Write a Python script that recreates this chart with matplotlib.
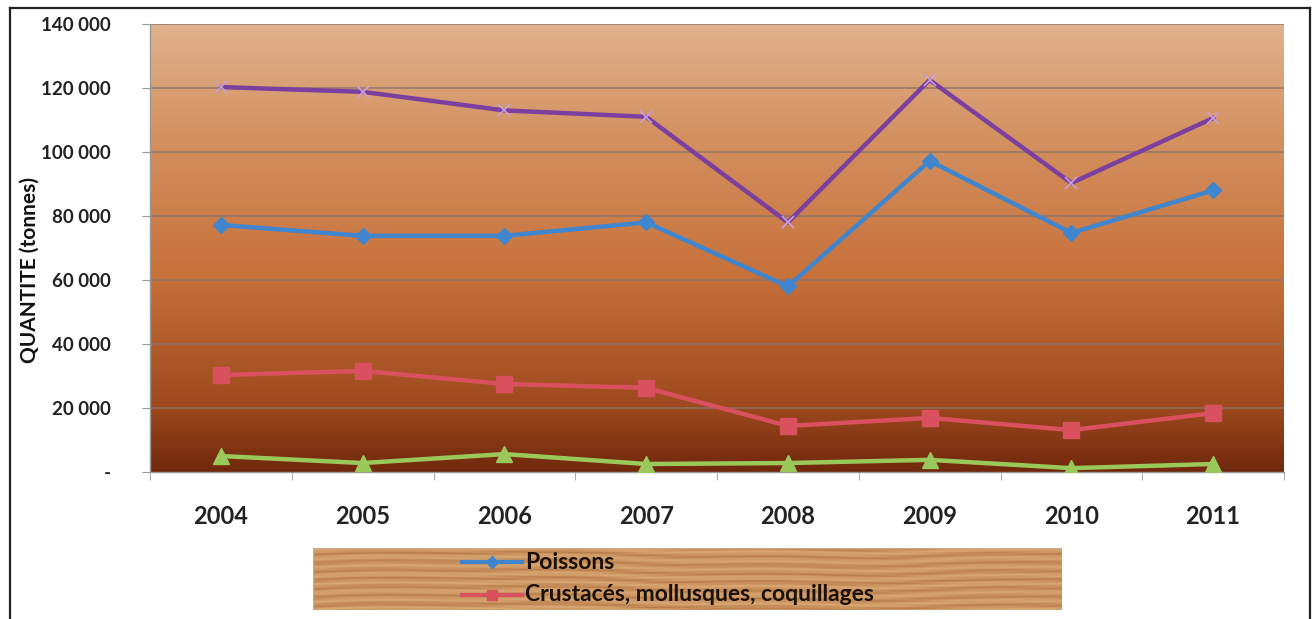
import numpy as np
import matplotlib
matplotlib.use("Agg")
import matplotlib.pyplot as plt
from matplotlib.colors import LinearSegmentedColormap
from matplotlib.lines import Line2D
from matplotlib.patches import Rectangle

plt.rcParams['font.family'] = ['Lato', 'DejaVu Sans']

# Data (tonnes)
years = ["2004", "2005", "2006", "2007", "2008", "2009", "2010", "2011"]
total = [120300, 118800, 113000, 111000, 78000, 122500, 90300, 110600]
poissons = [77200, 73800, 73800, 78000, 58000, 97200, 74700, 88000]
crustaces = [30300, 31600, 27500, 26300, 14400, 16900, 13100, 18400]
autres = [5000, 2800, 5600, 2500, 2800, 3800, 1200, 2500]
y_ticks = [0, 20000, 40000, 60000, 80000, 100000, 120000, 140000]
y_tick_labels = ["-", "20 000", "40 000", "60 000", "80 000", "100 000", "120 000", "140 000"]

fig = plt.figure(figsize=(13.16, 6.19), dpi=100)
fig.patch.set_facecolor("white")

# outer frame of the chart object
for (x0, y0, x1, y1) in [(10/1316, 1 - 8/619, 10/1316, 0), (1310/1316, 1 - 8/619, 1310/1316, 0),
                         (10/1316, 1 - 8/619, 1310/1316, 1 - 8/619)]:
    fig.add_artist(Line2D([x0, x1], [y0, y1], color="#222222", lw=1.6, transform=fig.transFigure))

ax = fig.add_axes([150/1316, 1 - 472/619, (1284 - 150)/1316, (472 - 24)/619])
x = np.arange(len(years))
ax.set_xlim(-0.5, len(years) - 0.5)
ax.set_ylim(0, 140000)

# vertical gradient background of the plot area
bg = LinearSegmentedColormap.from_list("bg", [
    (0.0, (112/255, 40/255, 12/255)),
    (0.15, (158/255, 74/255, 30/255)),
    (0.45, (200/255, 114/255, 60/255)),
    (0.75, (212/255, 145/255, 96/255)),
    (1.0, (224/255, 178/255, 142/255)),
])
grad = np.linspace(0, 1, 256).reshape(-1, 1)
ax.imshow(grad, cmap=bg, aspect="auto", origin="lower",
          extent=(-0.5, len(years) - 0.5, 0, 140000), zorder=0)

for yv in y_ticks[1:]:
    ax.axhline(yv, color="#8c7468", lw=1.2, alpha=0.85, zorder=1)

ax.plot(x, total, color="#7b3fa0", lw=3.2, marker="x", ms=9, mew=1.2,
        mec="#c9a0d8", zorder=3)
ax.plot(x, poissons, color="#3f86cf", lw=3.2, marker="D", ms=8, zorder=4, label="Poissons")
ax.plot(x, crustaces, color="#d9505f", lw=3.2, marker="s", ms=11, zorder=4,
        label="Crustacés, mollusques, coquillages")
ax.plot(x, autres, color="#9bc85a", lw=3.2, marker="^", ms=11, zorder=4)

ax.set_yticks(y_ticks)
ax.set_yticklabels(y_tick_labels, fontsize=13.5, fontweight="bold", color="#222222")
ax.set_xticks(x)
ax.set_xticklabels(years, fontsize=17, fontweight="bold", color="#222222")
ax.set_xticks(np.arange(len(years) + 1) - 0.5, minor=True)
ax.tick_params(axis="x", which="major", length=0, pad=24)
ax.tick_params(axis="x", which="minor", length=6, color="#999999")
ax.tick_params(axis="y", length=6, color="#999999", pad=22)
for s in ["top", "right"]:
    ax.spines[s].set_visible(False)
for s in ["left", "bottom"]:
    ax.spines[s].set_color("#999999")
    ax.spines[s].set_linewidth(1.0)
ax.set_ylabel("QUANTITE (tonnes)", fontsize=15, fontweight="bold", color="#111111")
ax.yaxis.set_label_coords(-0.097, 0.45)

# legend panel with a wood-grain fill
lax = fig.add_axes([313/1316, 1 - 610/619, (1062 - 313)/1316, (610 - 548)/619])
lax.set_xlim(0, 1)
lax.set_ylim(0, 1)
lax.axis("off")
xx = np.linspace(0, 1, 600)
yy = np.linspace(0, 1, 60)
X, Y = np.meshgrid(xx, yy)
grain = (0.5 + 0.18 * np.sin(Y * 45 + 2.0 * np.sin(X * 7) + 0.8 * np.sin(X * 23))
         + 0.08 * np.sin(Y * 110 + 3 * np.sin(X * 13)))
wood = LinearSegmentedColormap.from_list("wood", ["#b87e4a", "#cd9763", "#d9a874"])
lax.imshow(grain, cmap=wood, aspect="auto", extent=(0, 1, 0, 1), zorder=0)
lax.add_patch(Rectangle((0, 0), 1, 1, fill=False, ec="#c9a88a", lw=1))

hx0, hx1 = 0.199, 0.279
lax.plot([hx0, hx1], [0.77, 0.77], color="#3f86cf", lw=3, zorder=2)
lax.plot([(hx0 + hx1) / 2], [0.77], marker="D", color="#3f86cf", ms=6, zorder=3)
lax.plot([hx0, hx1], [0.25, 0.25], color="#d9505f", lw=3, zorder=2)
lax.plot([(hx0 + hx1) / 2], [0.25], marker="s", color="#d9505f", ms=7, zorder=3)
lax.text(0.283, 0.77, "Poissons", fontsize=16.5, fontweight="bold", va="center", color="#1a1008")
lax.text(0.283, 0.25, "Crustacés, mollusques, coquillages", fontsize=16.5, fontweight="bold",
         va="center", color="#1a1008")

fig.savefig("out.png", dpi=100)
